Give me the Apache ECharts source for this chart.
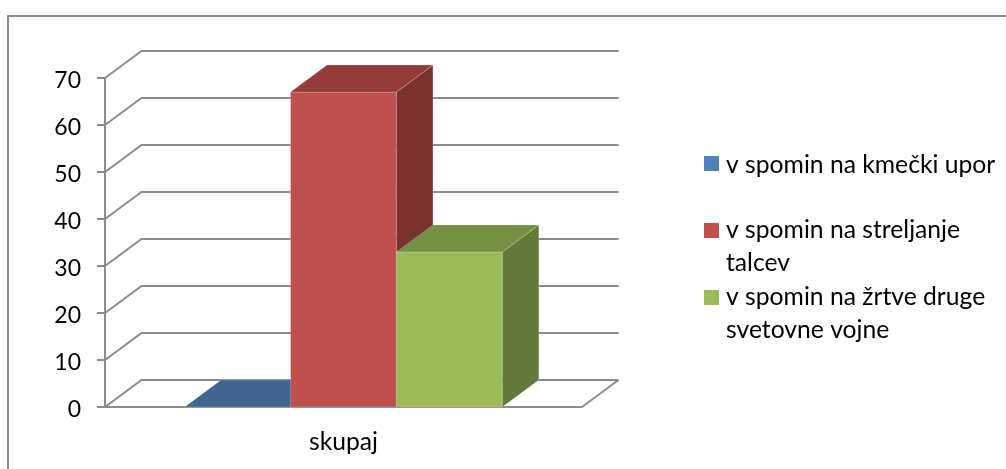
<!DOCTYPE html>
<html>
<head>
<meta charset="utf-8">
<style>
  html, body { margin: 0; padding: 0; background: #fff; }
  #chart { width: 1006px; height: 469px; }
</style>
<script src="https://cdn.jsdelivr.net/npm/echarts@6/dist/echarts.min.js"></script>
</head>
<body>
<div id="chart"></div>
<script>
var categories = ['skupaj']
var yTicks = [0, 10, 20, 30, 40, 50, 60, 70]
var kmecki = [0]
var streljanje = [67]
var zrtve = [33]
var legendNames = ['v spomin na kmečki upor', 'v spomin na streljanje\ntalcev', 'v spomin na žrtve druge\nsvetovne vojne']

var font = 'Lato'
var gray = '#8c8c8c'
var depthX = 36.5
var depthY = -27
var barShare = 0.222

// one colour set per series: front, top, side
var colors = [
  { name: legendNames[0], data: kmecki, key: '#4F81BD', front: '#4F81BD', top: '#3F6590', side: '#375779' },
  { name: legendNames[1], data: streljanje, key: '#C0504D', front: '#C0504D', top: '#933C3A', side: '#7B312E' },
  { name: legendNames[2], data: zrtve, key: '#9BBB59', front: '#9BBB59', top: '#769045', side: '#657A3A' }
]

function shift(p) {
  return [p[0] + depthX, p[1] + depthY]
}

function poly(points, fill) {
  return { type: 'polygon', shape: { points: points }, style: { fill: fill, stroke: 'rgba(255,255,255,0.25)', lineWidth: 0.8 } }
}

// back wall and side wall lines, one polyline for each tick
function renderWall(params, api) {
  var band = api.size([1, 0])[0]
  var center = api.coord([0, api.value(1)])
  var a = [center[0] - band / 2, center[1]]
  var b = shift(a)
  var c = [b[0] + band, b[1]]
  var children = [{ type: 'polyline', shape: { points: [a, b, c] }, style: { stroke: gray, lineWidth: 2, fill: null } }]
  if (api.value(1) === 0) {
    var d = [a[0] + band, a[1]]
    children.push({ type: 'line', shape: { x1: d[0], y1: d[1], x2: c[0], y2: c[1] }, style: { stroke: gray, lineWidth: 2 } })
  }
  return { type: 'group', children: children }
}

function renderBar(index) {
  var c = colors[index]
  return function (params, api) {
    var band = api.size([1, 0])[0]
    var w = band * barShare
    var base = api.coord([api.value(0), 0])
    var tip = api.coord([api.value(0), api.value(1)])
    var x0 = base[0] + (index - 1.5) * w
    var x1 = x0 + w
    var a = [x0, tip[1]]
    var b = [x1, tip[1]]
    var e = [x1, base[1]]
    var children = []
    if (tip[1] < base[1]) {
      children.push(poly([a, b, e, [x0, base[1]]], c.front))
      children.push(poly([b, shift(b), shift(e), e], c.side))
    }
    children.push(poly([a, shift(a), shift(b), b], c.top))
    return { type: 'group', children: children }
  }
}

var series = [{
  type: 'custom',
  name: 'wall',
  silent: true,
  z: 1,
  clip: false,
  data: yTicks.map(function (t) { return [0, t] }),
  renderItem: renderWall
}]

colors.forEach(function (c, i) {
  series.push({
    type: 'custom',
    name: c.name,
    z: 3 + i,
    clip: false,
    data: c.data.map(function (v, k) { return [k, v] }),
    encode: { x: 0, y: 1 },
    renderItem: renderBar(i)
  })
})

// legend on the right, the swatch stays beside the first text line
var swatchTops = [156, 223, 290]
var textMiddles = [165, 230, 297]
var legendGraphic = []
legendNames.forEach(function (name, i) {
  legendGraphic.push({ type: 'rect', left: 704, top: swatchTops[i], shape: { width: 15, height: 15 }, style: { fill: colors[i].key } })
  legendGraphic.push({ type: 'text', left: 726, top: textMiddles[i] - 16, style: { text: name, font: '24.7px ' + font, lineHeight: 33, fill: '#000' } })
})

var chart = echarts.init(document.getElementById('chart'))
chart.setOption({
  animation: false,
  backgroundColor: '#fff',
  textStyle: { fontFamily: font },
  grid: { left: 105, top: 78, width: 477, height: 329 },
  xAxis: {
    type: 'category',
    data: categories,
    axisLine: { lineStyle: { color: gray, width: 2 } },
    axisTick: { length: 8, lineStyle: { color: gray, width: 2 } },
    axisLabel: { color: '#000', fontSize: 24.7, margin: 23, fontFamily: font }
  },
  yAxis: {
    type: 'value',
    min: 0,
    max: 70,
    interval: 10,
    axisLine: { show: true, lineStyle: { color: gray, width: 2 } },
    axisTick: { show: true, length: 8, lineStyle: { color: gray, width: 2 } },
    axisLabel: {
      margin: 24,
      formatter: '{n|{value}}',
      rich: { n: { color: '#000', fontSize: 23, fontFamily: font, padding: [5, 0, 0, 0] } }
    },
    splitLine: { show: false }
  },
  graphic: [{
    type: 'polyline',
    shape: { points: [[8, 469], [8, 16], [1006, 16]] },
    style: { stroke: gray, lineWidth: 2, fill: null }
  }].concat(legendGraphic),
  series: series
})
</script>
</body>
</html>
